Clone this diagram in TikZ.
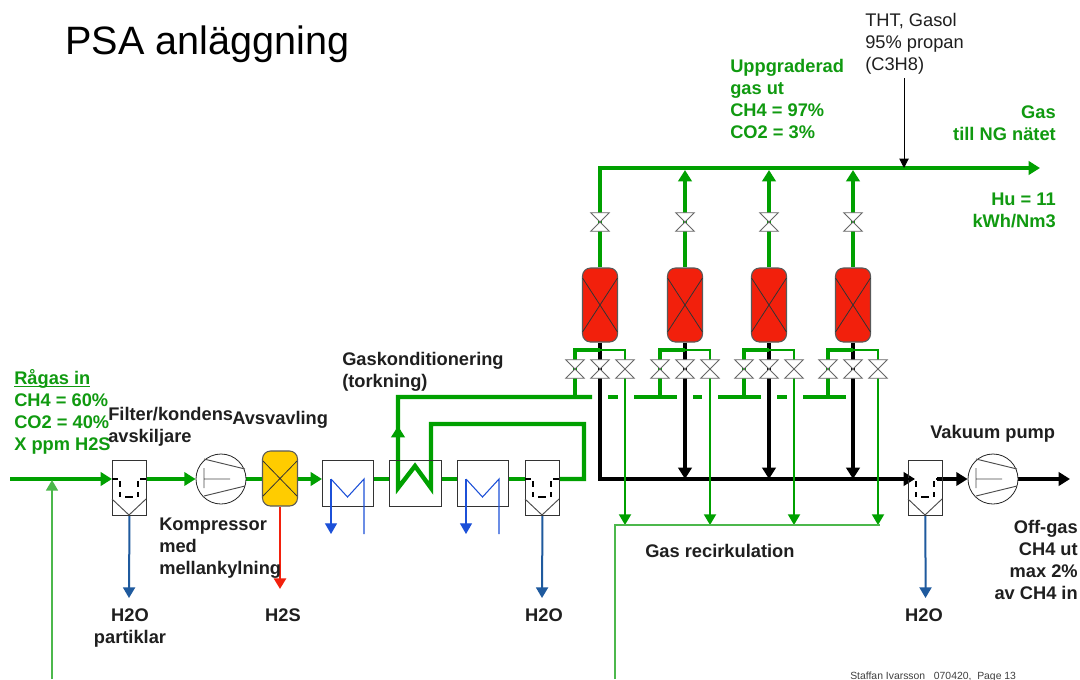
\documentclass[tikz,border=0pt]{standalone}
\usepackage{fontspec}
\setmainfont{Liberation Sans}
\usetikzlibrary{arrows.meta,backgrounds}
\definecolor{pipeg}{HTML}{00A000}
\definecolor{txtg}{HTML}{109A10}
\definecolor{recg}{HTML}{4CB84C}
\definecolor{wblue}{HTML}{1F5A9E}
\definecolor{cblue}{HTML}{1C50D8}
\definecolor{vred}{HTML}{F2200C}
\definecolor{vyel}{HTML}{FFCC00}
\def\pxu{0.75pt}
\tikzset{
  lbl/.style={font=\fontsize{13.7}{16.5}\selectfont\bfseries,inner sep=0pt,text=black!88,align=left,anchor=north west},
  lblg/.style={lbl,text=txtg},
  lblr/.style={lbl,align=right,anchor=north east},
  lblgr/.style={lblr,text=txtg},
  mainpipe/.style={draw=pipeg,line width=3.3pt},
  branchpipe/.style={draw=pipeg,line width=2.5pt},
  thinpipe/.style={draw=pipeg,line width=1.4pt},
  recpipe/.style={draw=recg,line width=1pt},
  blackpipe/.style={draw=black,line width=3.2pt},
  waterpipe/.style={draw=wblue,line width=1.5pt},
  coolpipe/.style={draw=cblue,line width=.8pt},
  bigtip/.style={-{Triangle[length=8.5pt,width=10pt]}},
  midtip/.style={-{Triangle[length=8pt,width=9pt]}},
  smalltip/.style={-{Triangle[length=8pt,width=9pt]}},
  boxnode/.style={draw=black!80,line width=.7pt,inner sep=0pt,anchor=north west},
  vesselnode/.style={draw=black!65,line width=.8pt,rounded corners=6pt,inner sep=0pt,minimum width=35*\pxu,minimum height=74*\pxu},
  valvenode/.style={inner sep=0pt,minimum width=18*\pxu,minimum height=18*\pxu},
  pumpnode/.style={circle,draw=black!85,line width=.6pt,inner sep=0pt,minimum size=50*\pxu},
  inner1/.style={draw=black!70,line width=.7pt},
  sepdash/.style={draw=black,line width=1.5pt},
}
% separator: name, x, top y
\newcommand{\sepunit}[3]{%
  \node[boxnode,minimum width=34*\pxu,minimum height=55*\pxu] (#1) at (#2,#3) {};
  \coordinate (#1in) at (#2,#3+19);
  \coordinate (#1out) at (#2+34,#3+19);
  \draw[inner1] (#2,#3+39)--(#2+17,#3+55)--(#2+34,#3+39);
  \draw[sepdash] (#2,#3+19)--(#2+6,#3+19) (#2+28,#3+19)--(#2+34,#3+19)
    (#2+8,#3+21)--(#2+8,#3+27) (#2+8,#3+32)--(#2+8,#3+37)
    (#2+26,#3+21)--(#2+26,#3+27) (#2+26,#3+32)--(#2+26,#3+37)
    (#2+13,#3+37)--(#2+21,#3+37);
}
% pump: name, cx, cy
\newcommand{\pumpunit}[3]{%
  \node[pumpnode] (#1) at (#2,#3) {};
  \draw[inner1] (#2-17,#3-20)--(#2+24,#3-10) (#2-17,#3+17)--(#2+24,#3+7)
    (#2-17,#3-11)--(#2-17,#3+9) (#2-17,#3)--(#2+9,#3);
}
% vessel: name, cx, cy, colour
\newcommand{\vesselunit}[4]{%
  \node[vesselnode,fill=#4] (#1) at (#2,#3) {};
  \draw[draw=black!80,line width=.6pt] (#2-17.5,#3-27)--(#2+17.5,#3+27) (#2+17.5,#3-27)--(#2-17.5,#3+27);
}
% valve: name, cx, cy
\newcommand{\valveunit}[3]{%
  \node[valvenode] (#1) at (#2,#3) {};
  \draw[draw=black!60,fill=white,line width=.7pt] (#1.north west)--(#1.north east)--(#1.south west)--(#1.south east)--cycle;
}
% cooler: name, x
\newcommand{\coolunit}[2]{%
  \node[boxnode,minimum width=51*\pxu,minimum height=46*\pxu] (#1) at (#2,460) {};
  \coordinate (#1a) at (#2+9,479);
  \coordinate (#1b) at (#2+42,479);
  \coordinate (#1c) at (#2+9,534);
  \coordinate (#1d) at (#2+42,534);
  \draw[coolpipe] (#1a)--(#2+25.5,497)--(#1b)--(#1d);
  \draw[coolpipe,midtip] (#1a)--(#1c);
}
\begin{document}
\begin{tikzpicture}[x=0.75pt,y=-0.75pt]
\useasboundingbox (0,0) rectangle (1080,679);

% equipment
\sepunit{sA}{112}{460}
\pumpunit{pA}{221}{479}
\node[vesselnode,fill=vyel,minimum height=55*\pxu] (yel) at (280,478.5) {};
\draw[draw=black!80,line width=.6pt] (263,461)--(297,496) (297,461)--(263,496);
\coolunit{cA}{322}
\node[boxnode,minimum width=52*\pxu,minimum height=46*\pxu] (hx) at (389,460) {};
\coolunit{cB}{457}
\sepunit{sB}{525}{460}
\sepunit{sC}{908}{460}
\pumpunit{pB}{993}{479}

\foreach \x in {600,685,769,853}{
  \vesselunit{v\x}{\x}{305}{vred}
  \valveunit{vt\x}{\x}{222}
  \valveunit{vl\x}{\x-25}{369}
  \valveunit{vc\x}{\x}{369}
  \valveunit{vr\x}{\x+25}{369}
  \coordinate (top\x) at (\x,170);
  \coordinate (bot\x) at (\x,479);
  \coordinate (spl\x) at (\x,350);
  \coordinate (hdr\x) at (\x-25,397);
  \coordinate (rec\x) at (\x+25,525);
}

% free ends
\coordinate (inlet) at (10,479);
\coordinate (recin) at (52,480);
\coordinate (recend) at (52,679);
\coordinate (h2oA) at (129,598);
\coordinate (h2sA) at (280,589);
\coordinate (h2oB) at (542,598);
\coordinate (h2oC) at (925.5,598);
\coordinate (gasout) at (1040,168);
\coordinate (hdrcorner) at (600,168);
\coordinate (thtin) at (904,78);
\coordinate (thtend) at (904,168);
\coordinate (offgas) at (1070,479);
\coordinate (recL) at (615,525);
\coordinate (recB) at (615,679);
\coordinate (recR) at (880,525);

\begin{pgfonlayer}{background}
  \fill[white] (0,0) rectangle (1080,679);
  % black
  \draw[blackpipe,bigtip,line join=miter] (v600.south)--(bot600)--(915,479);
  \foreach \x in {685,769,853}{\draw[blackpipe,bigtip] (v\x.south)--(bot\x);}
  \draw[blackpipe,bigtip] (937,479)--(pB.west);
  \draw[blackpipe,bigtip] (pB.east)--(offgas);
  % main green
  \draw[mainpipe,bigtip] (inlet)--(sAin);
  \draw[mainpipe,bigtip] (sAout)--(pA.west);
  \draw[mainpipe] (pA.east)--(yel.west|-pA);
  \draw[mainpipe,bigtip] (yel.east|-pA)--(cA.west|-pA);
  \draw[mainpipe] (cA.east|-pA)--(hx.west|-pA);
  \draw[mainpipe] (hx.east|-pA)--(cB.west|-pA);
  \draw[mainpipe] (cB.east|-pA)--(sB.west|-pA);
  \draw[mainpipe,line join=miter] (sBout)--(584,479)--(584,424)--(431,424)--(431,488)--(415,466)--(398,488)--(398,397)--(592,397);
  \draw[mainpipe,bigtip] (398,450)--(398,426);
  \draw[mainpipe] (608,397)--(618,397);
  \draw[mainpipe] (634,397)--(677,397);
  \draw[mainpipe] (693,397)--(702,397);
  \draw[mainpipe] (718,397)--(761,397);
  \draw[mainpipe] (777,397)--(787,397);
  \draw[mainpipe] (803,397)--(846,397);
  \draw[mainpipe,bigtip,line join=miter] (v600.north)--(hdrcorner)--(gasout);
  \foreach \x in {685,769,853}{\draw[mainpipe,bigtip] (v\x.north)--(top\x);}
  \foreach \x in {600,685,769,853}{
    \draw[branchpipe,line join=miter] (spl\x)-|(hdr\x);
    \draw[thinpipe,smalltip] (spl\x)-|(rec\x);
  }
  % recirculation
  \draw[recpipe] (recB)--(recL)--(recR);
  \draw[recpipe,line width=1.3pt,smalltip] (recend)--(recin);
  % drains
  \draw[waterpipe,smalltip] (sA.south)--(h2oA);
  \draw[waterpipe,smalltip] (sB.south)--(h2oB);
  \draw[waterpipe,smalltip] (sC.south)--(h2oC);
  \draw[draw=vred,line width=2.2pt,smalltip] (yel.south)--(h2sA);
  \draw[draw=black,line width=.7pt,-{Triangle[length=7pt,width=7pt]}] (thtin)--(thtend);
\end{pgfonlayer}

% texts
\node[inner sep=0pt,anchor=west,font=\fontsize{29.7}{34}\selectfont] (title) at (65,44) {PSA anläggning};
\node[lbl,font=\fontsize{13.7}{16.5}\selectfont] (tht) at (865,13) {THT, Gasol\\95\% propan\\(C3H8)};
\node[lblg] (upp) at (730,59) {Uppgraderad\\gas ut\\CH4 = 97\%\\CO2 = 3\%};
\node[lblgr] (gasnat) at (1056,105) {Gas\\till NG nätet};
\node[lblgr] (hu) at (1056,193) {Hu = 11\\kWh/Nm3};
\node[lbl] (gask) at (342,352) {Gaskonditionering\\(torkning)};
\node[lblg] (rag) at (14,370) {\rule{0pt}{10.5pt}\underline{\smash{Rågas in}}\\CH4 = 60\%\\CO2 = 40\%\\X ppm H2S};
\node[lbl] (filt) at (108,407) {Filter/kondens\\avskiljare};
\node[lbl] (avs) at (232,411) {Avsvavling};
\node[lbl] (komp) at (159,518) {Kompressor\\med\\mellankylning};
\node[lbl,align=center,anchor=north] (pk) at (130,608) {H2O\\partiklar};
\node[lbl,anchor=north] (hs) at (283,608) {H2S};
\node[lbl,anchor=north] (hB) at (544,608) {H2O};
\node[lbl,anchor=north] (hC) at (924,608) {H2O};
\node[lbl] (rc) at (645,544) {Gas recirkulation};
\node[lbl] (vak) at (930,425) {Vakuum pump};
\node[lblr] (off) at (1078,520) {Off-gas\\CH4 ut\\max 2\%\\av CH4 in};
\node[inner sep=0pt,anchor=west,font=\fontsize{7.8}{9}\selectfont,text=black!75] (foot) at (850,677) {Staffan Ivarsson~~~070420,~~Page 13};
\end{tikzpicture}
\end{document}
